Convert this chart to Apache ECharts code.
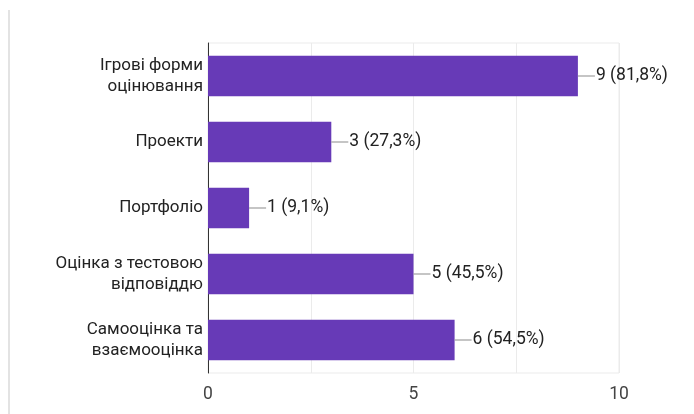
<!DOCTYPE html>
<html>
<head>
<meta charset="utf-8">
<script src="https://cdn.jsdelivr.net/npm/echarts@6/dist/echarts.min.js"></script>
<style>
html,body{margin:0;padding:0;background:#fff;}
#c{width:694px;height:414px;}
</style>
</head>
<body>
<div id="c"></div>
<script>
const categories = ['Ігрові форми\nоцінювання', 'Проекти', 'Портфоліо', 'Оцінка з тестовою\nвідповіддю', 'Самооцінка та\nвзаємооцінка'];
const values = [9, 3, 1, 5, 6];
const percents = ['81,8%', '27,3%', '9,1%', '45,5%', '54,5%'];
const xTicks = [0, 5, 10];

const chart = echarts.init(document.getElementById('c'), null, {renderer: 'canvas'});
const font = 'Roboto, Arial, sans-serif';
chart.setOption({
  animation: false,
  graphic: [{
    type: 'rect', left: 8, top: 10, shape: {width: 2, height: 404}, style: {fill: '#e3e3e3'}
  }],
  grid: {left: 208, right: 75, top: 43, bottom: 41, show: true, borderColor: '#ebebeb', borderWidth: 1},
  xAxis: {
    type: 'value', min: xTicks[0], max: xTicks[xTicks.length - 1], interval: 5,
    axisLine: {show: false}, axisTick: {show: false},
    splitLine: {show: true, lineStyle: {color: '#ebebeb', width: 1}},
    minorTick: {show: false, splitNumber: 2},
    minorSplitLine: {show: true, lineStyle: {color: '#ebebeb', width: 1}},
    axisLabel: {color: '#444', fontSize: 17.5, fontFamily: font, margin: 13}
  },
  yAxis: {
    type: 'category', data: categories, inverse: true,
    axisLine: {show: true, lineStyle: {color: '#333', width: 1}},
    axisTick: {show: false},
    axisLabel: {color: '#222', fontSize: 17, fontFamily: font, lineHeight: 21, margin: 5, align: 'right', padding: [3, 0, 0, 0]}
  },
  series: [{
    type: 'bar', data: values, barCategoryGap: '39%',
    itemStyle: {color: '#673ab7'},
    label: {
      show: true, position: 'right', distance: 0,
      formatter: function (p) { return '{ln|}{t|' + values[p.dataIndex] + ' (' + percents[p.dataIndex] + ')}'; },
      rich: {
        ln: {width: 17, height: 1, backgroundColor: '#8a8a8a'},
        t: {color: '#222', fontSize: 17.5, fontFamily: font, padding: [0, 0, 0, 1]}
      }
    }
  }]
});
</script>
</body>
</html>
